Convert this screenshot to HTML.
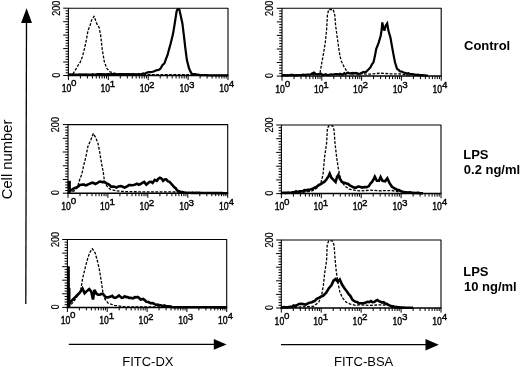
<!DOCTYPE html>
<html><head><meta charset="utf-8"><title>Figure</title>
<style>html,body{margin:0;padding:0;background:#fff}body{width:520px;height:367px;position:relative;overflow:hidden}</style>
</head><body>
<svg width="520" height="367" viewBox="0 0 520 367" style="position:absolute;left:0;top:0">
<g fill="none" stroke="#000" stroke-linecap="butt" stroke-linejoin="round">
<path d="M68.4 75.5V8.2H228.0V75.5" stroke-width="1.1"/>
<path d="M67.4 75.5H228.5" stroke-width="1.5"/>
<path d="M68.4 75.5v4.6M80.4 75.5v3M87.4 75.5v3M92.4 75.5v3M96.3 75.5v3M99.4 75.5v3M102.1 75.5v3M104.4 75.5v3M106.5 75.5v3M108.3 75.5v4.6M120.3 75.5v3M127.3 75.5v3M132.3 75.5v3M136.2 75.5v3M139.3 75.5v3M142.0 75.5v3M144.3 75.5v3M146.4 75.5v3M148.2 75.5v4.6M160.2 75.5v3M167.2 75.5v3M172.2 75.5v3M176.1 75.5v3M179.2 75.5v3M181.9 75.5v3M184.2 75.5v3M186.3 75.5v3M188.1 75.5v4.6M200.1 75.5v3M207.1 75.5v3M212.1 75.5v3M216.0 75.5v3M219.1 75.5v3M221.8 75.5v3M224.1 75.5v3M226.2 75.5v3M228.0 75.5v4.6" stroke-width="1"/>
<path d="M68.4 75.5h-5.2M68.4 72.8h-2.8M68.4 70.1h-2.8M68.4 67.4h-2.8M68.4 64.7h-2.8M68.4 62.0h-5.2M68.4 59.3h-2.8M68.4 56.7h-2.8M68.4 54.0h-2.8M68.4 51.3h-2.8M68.4 48.6h-5.2M68.4 45.9h-2.8M68.4 43.2h-2.8M68.4 40.5h-2.8M68.4 37.8h-2.8M68.4 35.1h-5.2M68.4 32.4h-2.8M68.4 29.7h-2.8M68.4 27.0h-2.8M68.4 24.4h-2.8M68.4 21.7h-5.2M68.4 19.0h-2.8M68.4 16.3h-2.8M68.4 13.6h-2.8M68.4 10.9h-2.8M68.4 8.2h-5.2" stroke-width="1"/>
<polyline points="68.5,74.5 73.0,73.8 75.2,70.3 78.2,65.2 80.3,62.1 82.3,57.0 84.4,48.9 86.4,39.7 88.0,30.5 90.1,25.4 91.5,20.3 94.2,16.2 96.6,23.4 99.1,27.4 100.7,35.6 102.3,49.9 104.4,62.1 106.8,68.3 109.9,71.9 115.0,73.4 125.0,74.2 150.0,74.6 200.0,74.6" stroke-width="1.3" stroke-dasharray="2.8 1.5"/>
<polyline points="68.5,74.6 69.9,74.6 71.4,74.7 72.8,74.4 74.2,74.7 75.7,74.7 77.1,74.7 78.5,74.6 80.0,74.4 81.4,74.7 82.8,74.3 84.3,74.5 85.7,74.3 87.1,74.6 88.6,74.5 90.0,74.5 91.4,74.6 92.9,74.2 94.3,74.5 95.7,74.5 97.1,74.2 98.6,74.2 100.0,74.1 101.4,74.2 102.9,74.4 104.3,74.1 105.7,74.5 107.1,74.2 108.6,74.1 110.0,74.3 111.4,74.1 112.9,74.0 114.3,74.2 115.7,74.0 117.1,74.3 118.6,74.1 120.0,74.0 121.4,74.2 122.9,74.2 124.3,74.4 125.7,74.0 127.1,74.2 128.6,74.0 130.0,74.2 131.4,74.4 132.9,74.0 134.3,74.2 135.7,74.3 137.1,74.4 138.6,74.2 140.0,74.4 141.5,74.2 143.1,73.5 144.6,73.9 146.1,73.0 147.7,72.4 149.4,72.1 151.0,72.2 152.7,71.7 154.3,71.3 155.8,70.5 157.4,70.2 158.9,69.7 160.4,68.7 162.4,65.3 164.5,63.2 166.1,58.6 167.6,55.0 169.1,49.1 170.6,43.8 173.1,33.6 175.1,21.3 176.6,11.3 177.5,9.4 179.3,9.4 180.4,14.2 182.4,23.4 183.9,35.6 185.3,47.9 186.9,60.1 189.0,68.3 190.5,71.7 192.0,74.0 193.6,74.2 195.2,74.2 196.8,74.7 198.4,74.7 200.0,75.2 201.4,75.2 202.8,75.2 204.2,75.2 205.6,75.2 207.0,75.2 208.4,75.3 209.8,75.3 211.2,75.3 212.6,75.3 214.0,75.3 215.4,75.3 216.8,75.3 218.2,75.3 219.6,75.3 221.0,75.4 222.4,75.4 223.8,75.4 225.2,75.4 226.6,75.4 228.0,75.4" stroke-width="2.2" stroke-linejoin="miter" stroke-miterlimit="3"/>
<path d="M282.0 76.1V8.3H441.2V76.1" stroke-width="1.1"/>
<path d="M281.0 76.1H441.7" stroke-width="1.5"/>
<path d="M282.0 76.1v4.6M294.0 76.1v3M301.0 76.1v3M306.0 76.1v3M309.8 76.1v3M313.0 76.1v3M315.6 76.1v3M317.9 76.1v3M320.0 76.1v3M321.8 76.1v4.6M333.8 76.1v3M340.8 76.1v3M345.8 76.1v3M349.6 76.1v3M352.8 76.1v3M355.4 76.1v3M357.7 76.1v3M359.8 76.1v3M361.6 76.1v4.6M373.6 76.1v3M380.6 76.1v3M385.6 76.1v3M389.4 76.1v3M392.6 76.1v3M395.2 76.1v3M397.5 76.1v3M399.6 76.1v3M401.4 76.1v4.6M413.4 76.1v3M420.4 76.1v3M425.4 76.1v3M429.2 76.1v3M432.4 76.1v3M435.0 76.1v3M437.3 76.1v3M439.4 76.1v3M441.2 76.1v4.6" stroke-width="1"/>
<path d="M282.0 76.1h-5.2M282.0 73.4h-2.8M282.0 70.7h-2.8M282.0 68.0h-2.8M282.0 65.3h-2.8M282.0 62.5h-5.2M282.0 59.8h-2.8M282.0 57.1h-2.8M282.0 54.4h-2.8M282.0 51.7h-2.8M282.0 49.0h-5.2M282.0 46.3h-2.8M282.0 43.6h-2.8M282.0 40.8h-2.8M282.0 38.1h-2.8M282.0 35.4h-5.2M282.0 32.7h-2.8M282.0 30.0h-2.8M282.0 27.3h-2.8M282.0 24.6h-2.8M282.0 21.9h-5.2M282.0 19.1h-2.8M282.0 16.4h-2.8M282.0 13.7h-2.8M282.0 11.0h-2.8M282.0 8.3h-5.2" stroke-width="1"/>
<polyline points="282.0,75.0 300.0,74.8 315.0,74.5 319.9,73.5 321.5,64.3 323.4,54.1 325.4,41.8 326.6,29.5 327.4,15.2 328.7,9.5 333.2,9.5 334.8,15.2 335.6,25.4 337.3,37.7 339.3,52.0 340.9,60.2 343.8,66.3 346.5,70.8 350.6,74.1 360.0,73.8 370.0,74.2 380.0,73.2 390.0,73.8 400.0,74.0 410.0,75.2" stroke-width="1.3" stroke-dasharray="2.8 1.5"/>
<polyline points="282.0,75.3 283.5,75.2 285.0,75.1 286.5,75.3 288.0,75.3 289.5,75.2 291.0,74.9 292.5,74.9 294.0,75.0 295.5,75.3 297.0,75.1 298.5,75.0 300.0,75.0 301.4,75.0 302.9,74.6 304.3,74.9 305.7,74.8 307.1,74.5 308.6,74.5 310.0,74.6 312.0,73.5 314.0,72.6 316.0,74.1 318.0,74.3 319.5,74.1 321.0,73.7 322.5,74.8 324.0,74.9 325.5,74.2 327.0,74.8 328.5,75.1 330.0,74.5 331.4,74.3 332.9,74.5 334.3,74.3 335.7,74.2 337.1,74.1 338.6,74.4 340.0,73.8 341.4,74.3 342.9,74.3 344.3,73.2 345.7,74.1 347.1,73.0 348.6,73.1 350.0,73.5 351.5,73.0 352.9,72.9 354.4,73.4 355.8,72.9 357.3,73.4 358.7,74.0 360.2,73.5 361.8,72.9 363.3,71.9 364.8,72.4 366.4,71.5 368.4,69.5 370.4,67.4 371.9,64.4 373.5,62.3 374.9,56.1 376.2,49.0 378.6,42.8 380.7,35.7 381.7,29.5 382.3,22.4 383.3,27.5 384.4,30.6 385.8,25.4 387.2,23.4 388.4,30.6 390.5,37.7 391.9,45.9 393.4,54.1 395.0,62.3 397.0,68.8 398.6,69.9 400.1,71.5 401.8,71.6 403.5,72.5 405.2,72.9 406.7,73.8 408.2,73.1 409.8,73.7 411.3,74.1 412.9,74.0 414.6,74.7 416.2,74.8 417.9,74.7 419.5,75.1 420.9,75.0 422.3,75.2 423.8,75.4 425.2,75.4 426.6,75.6 428.0,75.7" stroke-width="2.2" stroke-linejoin="miter" stroke-miterlimit="3"/>
<path d="M68.0 193.2V124.6H227.7V193.2" stroke-width="1.1"/>
<path d="M67.0 193.2H228.2" stroke-width="1.5"/>
<path d="M68.0 193.2v4.6M80.0 193.2v3M87.0 193.2v3M92.0 193.2v3M95.9 193.2v3M99.1 193.2v3M101.7 193.2v3M104.1 193.2v3M106.1 193.2v3M107.9 193.2v4.6M119.9 193.2v3M127.0 193.2v3M132.0 193.2v3M135.8 193.2v3M139.0 193.2v3M141.7 193.2v3M144.0 193.2v3M146.0 193.2v3M147.8 193.2v4.6M159.9 193.2v3M166.9 193.2v3M171.9 193.2v3M175.8 193.2v3M178.9 193.2v3M181.6 193.2v3M183.9 193.2v3M185.9 193.2v3M187.8 193.2v4.6M199.8 193.2v3M206.8 193.2v3M211.8 193.2v3M215.7 193.2v3M218.8 193.2v3M221.5 193.2v3M223.8 193.2v3M225.9 193.2v3M227.7 193.2v4.6" stroke-width="1"/>
<path d="M68.0 193.2h-5.2M68.0 190.5h-2.8M68.0 187.7h-2.8M68.0 185.0h-2.8M68.0 182.2h-2.8M68.0 179.5h-5.2M68.0 176.7h-2.8M68.0 174.0h-2.8M68.0 171.2h-2.8M68.0 168.5h-2.8M68.0 165.8h-5.2M68.0 163.0h-2.8M68.0 160.3h-2.8M68.0 157.5h-2.8M68.0 154.8h-2.8M68.0 152.0h-5.2M68.0 149.3h-2.8M68.0 146.6h-2.8M68.0 143.8h-2.8M68.0 141.1h-2.8M68.0 138.3h-5.2M68.0 135.6h-2.8M68.0 132.8h-2.8M68.0 130.1h-2.8M68.0 127.3h-2.8M68.0 124.6h-5.2" stroke-width="1"/>
<polyline points="68.0,192.0 74.0,191.0 77.5,187.1 79.6,179.8 81.7,174.6 83.8,165.1 85.9,156.7 88.0,146.2 90.8,139.9 93.3,133.6 95.8,137.8 97.9,143.1 99.6,151.5 101.7,164.1 103.3,172.5 104.4,180.8 106.9,186.1 110.1,189.2 116.4,190.9 124.7,191.6 146.0,191.9 185.0,192.0" stroke-width="1.3" stroke-dasharray="2.8 1.5"/>
<polyline points="69.0,181.0 69.3,191.5 71.2,190.3 72.8,189.0 74.4,188.2 76.5,187.5 78.6,186.1 80.0,185.0 81.4,184.8 82.8,184.6 84.2,184.6 85.6,185.4 87.0,185.0 88.4,184.1 89.8,183.7 91.2,182.9 92.6,182.7 94.0,183.2 95.4,184.0 97.5,183.0 99.6,181.5 101.0,181.7 102.4,182.1 103.8,181.9 105.2,182.5 106.6,183.3 108.0,184.0 109.5,184.9 111.1,186.7 112.9,186.6 114.6,186.7 116.4,187.6 118.5,186.4 120.6,186.1 122.7,186.8 124.7,187.6 126.1,186.9 127.5,186.2 128.9,185.0 130.5,185.1 132.1,185.2 133.6,185.0 135.2,184.6 137.0,183.7 138.7,184.7 140.5,184.0 142.3,182.9 144.2,181.9 146.3,184.6 147.9,183.2 149.4,181.9 151.0,181.8 152.6,182.9 154.7,179.8 156.8,180.8 158.4,178.8 159.9,177.7 161.5,178.6 163.1,180.8 164.6,179.5 166.2,179.4 167.8,181.1 169.4,181.9 170.9,183.3 172.5,185.0 174.1,187.0 175.7,188.2 177.2,190.4 178.8,191.3 180.6,191.8 182.3,192.1 184.1,192.8 185.5,192.6 186.9,193.0 188.3,192.8 189.7,192.7 191.1,193.0 192.5,192.7 193.9,193.0 195.4,192.9 196.8,192.9 198.2,192.9 199.6,192.9 201.0,193.0 202.4,193.0 203.8,193.0 205.2,193.0 206.6,193.0 208.0,193.0 209.4,193.0 210.8,193.0 212.2,193.1 213.6,193.1 215.0,193.1 216.4,193.1 217.9,193.1 219.3,193.1 220.7,193.1 222.1,193.1 223.5,193.2 224.9,193.2 226.3,193.2 227.7,193.2" stroke-width="2.6" stroke-linejoin="miter" stroke-miterlimit="3"/>
<path d="M69.3 180.8V192.5" stroke-width="3"/>
<path d="M281.4 193.6V125.0H441.0V193.6" stroke-width="1.1"/>
<path d="M280.4 193.6H441.5" stroke-width="1.5"/>
<path d="M281.4 193.6v4.6M293.4 193.6v3M300.4 193.6v3M305.4 193.6v3M309.3 193.6v3M312.4 193.6v3M315.1 193.6v3M317.4 193.6v3M319.5 193.6v3M321.3 193.6v4.6M333.3 193.6v3M340.3 193.6v3M345.3 193.6v3M349.2 193.6v3M352.3 193.6v3M355.0 193.6v3M357.3 193.6v3M359.4 193.6v3M361.2 193.6v4.6M373.2 193.6v3M380.2 193.6v3M385.2 193.6v3M389.1 193.6v3M392.2 193.6v3M394.9 193.6v3M397.2 193.6v3M399.3 193.6v3M401.1 193.6v4.6M413.1 193.6v3M420.1 193.6v3M425.1 193.6v3M429.0 193.6v3M432.1 193.6v3M434.8 193.6v3M437.1 193.6v3M439.2 193.6v3M441.0 193.6v4.6" stroke-width="1"/>
<path d="M281.4 193.6h-5.2M281.4 190.9h-2.8M281.4 188.1h-2.8M281.4 185.4h-2.8M281.4 182.6h-2.8M281.4 179.9h-5.2M281.4 177.1h-2.8M281.4 174.4h-2.8M281.4 171.6h-2.8M281.4 168.9h-2.8M281.4 166.2h-5.2M281.4 163.4h-2.8M281.4 160.7h-2.8M281.4 157.9h-2.8M281.4 155.2h-2.8M281.4 152.4h-5.2M281.4 149.7h-2.8M281.4 147.0h-2.8M281.4 144.2h-2.8M281.4 141.5h-2.8M281.4 138.7h-5.2M281.4 136.0h-2.8M281.4 133.2h-2.8M281.4 130.5h-2.8M281.4 127.7h-2.8M281.4 125.0h-5.2" stroke-width="1"/>
<polyline points="281.4,193.0 300.0,192.6 311.5,191.3 316.7,188.2 320.9,182.9 323.0,174.6 324.5,157.8 326.6,143.1 327.4,128.4 328.7,125.9 332.9,125.9 334.1,130.5 335.0,143.1 336.7,157.8 338.3,168.3 339.8,175.6 341.9,181.9 345.0,186.1 349.2,189.2 355.5,190.3 360.0,190.9 370.0,190.2 380.0,190.8 392.0,190.5 400.0,192.3" stroke-width="1.3" stroke-dasharray="2.8 1.5"/>
<polyline points="281.4,193.0 282.8,192.8 284.2,192.8 285.6,192.9 287.0,192.8 288.4,192.5 289.8,192.7 291.2,192.7 292.6,192.4 294.3,192.3 296.0,191.3 297.6,192.4 299.3,191.2 301.0,191.3 302.7,191.4 304.4,190.2 306.0,190.4 307.7,189.9 309.4,189.7 311.1,189.3 312.9,188.7 314.6,187.6 316.7,186.8 318.8,185.0 320.9,184.2 323.0,182.5 324.6,181.7 326.2,179.8 328.3,176.7 329.7,173.5 331.4,177.7 333.5,179.8 335.6,181.9 337.1,176.7 338.3,175.0 339.8,178.7 341.9,181.9 343.4,182.6 345.0,182.9 346.6,183.5 348.2,184.0 349.8,185.4 351.3,186.1 352.9,187.0 354.5,187.6 356.1,187.6 357.6,186.7 359.1,186.6 360.5,186.9 362.6,187.6 364.7,187.1 366.8,187.1 368.9,186.1 370.4,183.6 372.0,181.9 373.4,179.7 374.8,176.7 376.9,180.8 379.0,180.8 380.6,177.1 382.5,180.8 385.2,181.3 387.3,178.3 389.4,182.9 392.0,186.7 393.6,187.8 395.1,188.8 397.2,189.7 399.3,190.3 401.1,191.3 402.8,191.7 404.6,192.0 406.3,192.2 407.9,192.5 409.6,192.4 411.2,192.5 412.9,193.0 414.3,192.9 415.8,193.0 417.2,192.9 418.7,192.9 420.1,193.2 421.6,193.3 423.0,193.4" stroke-width="2.6" stroke-linejoin="miter" stroke-miterlimit="3"/>
<path d="M67.4 307.4V239.5H226.7V307.4" stroke-width="1.1"/>
<path d="M66.4 307.4H227.2" stroke-width="1.5"/>
<path d="M67.4 307.4v4.6M79.4 307.4v3M86.4 307.4v3M91.4 307.4v3M95.2 307.4v3M98.4 307.4v3M101.1 307.4v3M103.4 307.4v3M105.4 307.4v3M107.2 307.4v4.6M119.2 307.4v3M126.2 307.4v3M131.2 307.4v3M135.1 307.4v3M138.2 307.4v3M140.9 307.4v3M143.2 307.4v3M145.2 307.4v3M147.1 307.4v4.6M159.0 307.4v3M166.1 307.4v3M171.0 307.4v3M174.9 307.4v3M178.0 307.4v3M180.7 307.4v3M183.0 307.4v3M185.1 307.4v3M186.9 307.4v4.6M198.9 307.4v3M205.9 307.4v3M210.9 307.4v3M214.7 307.4v3M217.9 307.4v3M220.5 307.4v3M222.8 307.4v3M224.9 307.4v3M226.7 307.4v4.6" stroke-width="1"/>
<path d="M67.4 307.4h-5.2M67.4 304.7h-2.8M67.4 302.0h-2.8M67.4 299.3h-2.8M67.4 296.5h-2.8M67.4 293.8h-5.2M67.4 291.1h-2.8M67.4 288.4h-2.8M67.4 285.7h-2.8M67.4 283.0h-2.8M67.4 280.2h-5.2M67.4 277.5h-2.8M67.4 274.8h-2.8M67.4 272.1h-2.8M67.4 269.4h-2.8M67.4 266.7h-5.2M67.4 263.9h-2.8M67.4 261.2h-2.8M67.4 258.5h-2.8M67.4 255.8h-2.8M67.4 253.1h-5.2M67.4 250.4h-2.8M67.4 247.6h-2.8M67.4 244.9h-2.8M67.4 242.2h-2.8M67.4 239.5h-5.2" stroke-width="1"/>
<polyline points="67.4,306.5 71.0,304.5 73.4,302.1 77.6,295.8 80.8,289.6 82.5,279.1 85.0,268.6 87.5,259.1 89.6,252.8 92.3,248.6 95.1,252.8 97.2,260.2 99.2,268.6 101.3,281.2 102.8,291.7 104.9,299.0 108.1,303.2 114.4,305.3 124.8,306.8 144.0,307.0 175.0,307.0" stroke-width="1.3" stroke-dasharray="2.8 1.5"/>
<polyline points="68.3,266.5 68.6,304.2 71.3,301.1 72.9,299.5 74.5,297.9 76.0,296.3 77.6,294.8 79.0,293.6 80.4,291.7 82.5,288.5 84.6,293.3 86.7,291.2 89.2,289.1 91.3,291.7 93.0,299.5 94.4,290.0 96.5,293.7 98.1,294.7 99.7,294.8 101.2,294.0 102.8,293.7 104.4,295.7 106.0,297.5 107.5,297.4 109.1,296.9 110.7,296.6 112.3,295.8 113.8,297.5 115.4,297.9 117.2,297.0 119.0,295.4 121.7,297.9 123.2,297.6 124.8,296.3 126.2,297.1 127.6,297.0 129.0,297.9 131.1,297.9 133.2,298.4 134.6,297.2 136.0,297.4 137.4,296.9 139.0,297.8 140.6,299.6 143.1,299.0 144.7,300.1 146.3,301.7 148.4,302.0 150.5,303.2 152.6,303.0 154.7,304.2 156.3,304.9 157.8,304.5 159.4,305.2 161.0,305.3 162.6,306.1 164.2,305.5 165.7,306.0 167.3,306.3 168.9,306.3 170.4,306.5 172.0,307.0 173.6,307.2 175.0,307.2 176.5,307.2 177.9,307.2 179.3,307.2 180.8,307.2 182.2,307.2 183.6,307.2 185.1,307.2 186.5,307.2 188.0,307.3 189.4,307.3 190.8,307.3 192.3,307.3 193.7,307.3 195.1,307.3 196.6,307.3 198.0,307.3 199.4,307.3 200.9,307.3 202.3,307.3 203.7,307.3 205.2,307.3 206.6,307.3 208.0,307.3 209.5,307.3 210.9,307.3 212.3,307.3 213.8,307.4 215.2,307.4 216.7,307.4 218.1,307.4 219.5,307.4 221.0,307.4 222.4,307.4 223.8,307.4 225.3,307.4 226.7,307.4" stroke-width="2.6" stroke-linejoin="miter" stroke-miterlimit="3"/>
<path d="M68.4 266.5V306.8" stroke-width="2.4"/><path d="M68.9 288V306.8" stroke-width="3.2"/>
<path d="M281.3 308.0V240.0H441.0V308.0" stroke-width="1.1"/>
<path d="M280.3 308.0H441.5" stroke-width="1.5"/>
<path d="M281.3 308.0v4.6M293.3 308.0v3M300.3 308.0v3M305.3 308.0v3M309.2 308.0v3M312.4 308.0v3M315.0 308.0v3M317.4 308.0v3M319.4 308.0v3M321.2 308.0v4.6M333.2 308.0v3M340.3 308.0v3M345.3 308.0v3M349.1 308.0v3M352.3 308.0v3M355.0 308.0v3M357.3 308.0v3M359.3 308.0v3M361.1 308.0v4.6M373.2 308.0v3M380.2 308.0v3M385.2 308.0v3M389.1 308.0v3M392.2 308.0v3M394.9 308.0v3M397.2 308.0v3M399.2 308.0v3M401.1 308.0v4.6M413.1 308.0v3M420.1 308.0v3M425.1 308.0v3M429.0 308.0v3M432.1 308.0v3M434.8 308.0v3M437.1 308.0v3M439.2 308.0v3M441.0 308.0v4.6" stroke-width="1"/>
<path d="M281.3 308.0h-5.2M281.3 305.3h-2.8M281.3 302.6h-2.8M281.3 299.8h-2.8M281.3 297.1h-2.8M281.3 294.4h-5.2M281.3 291.7h-2.8M281.3 289.0h-2.8M281.3 286.2h-2.8M281.3 283.5h-2.8M281.3 280.8h-5.2M281.3 278.1h-2.8M281.3 275.4h-2.8M281.3 272.6h-2.8M281.3 269.9h-2.8M281.3 267.2h-5.2M281.3 264.5h-2.8M281.3 261.8h-2.8M281.3 259.0h-2.8M281.3 256.3h-2.8M281.3 253.6h-5.2M281.3 250.9h-2.8M281.3 248.2h-2.8M281.3 245.4h-2.8M281.3 242.7h-2.8M281.3 240.0h-5.2" stroke-width="1"/>
<polyline points="281.3,307.4 300.0,307.0 313.6,306.3 318.8,302.1 321.5,295.8 323.4,285.4 324.7,272.8 326.6,260.2 327.2,244.4 328.7,240.9 332.5,240.9 334.1,245.5 335.0,258.1 336.2,270.7 337.7,281.2 339.8,291.7 342.5,297.9 346.1,302.1 350.3,304.2 355.5,305.3 360.0,304.9 370.0,305.4 380.0,304.8 392.0,305.6 400.0,307.0" stroke-width="1.3" stroke-dasharray="2.8 1.5"/>
<polyline points="281.3,307.6 282.8,307.4 284.4,307.1 285.9,307.4 287.4,307.2 289.0,307.0 290.5,306.8 292.1,306.9 293.6,305.4 295.2,306.0 296.8,305.3 298.9,304.0 301.0,303.8 303.1,304.1 305.2,304.7 306.9,304.0 308.7,302.9 310.4,302.6 311.8,302.2 313.2,301.5 314.6,301.1 316.7,298.8 318.8,297.9 320.9,296.6 323.0,295.8 324.6,294.3 326.2,292.7 328.7,288.5 331.4,285.4 333.5,280.7 335.6,279.1 337.7,281.6 339.8,279.5 341.9,284.3 344.6,288.5 347.1,291.7 348.7,294.2 350.3,295.8 352.4,299.6 353.9,301.0 355.5,301.7 357.2,301.9 358.8,303.3 360.5,303.2 362.2,303.3 364.0,303.1 365.7,302.6 367.5,301.8 369.2,302.1 371.0,301.1 372.6,302.2 374.1,302.1 375.7,300.9 377.3,300.0 378.9,301.1 380.4,301.7 382.0,302.5 383.6,302.1 385.1,303.5 386.7,303.8 388.8,305.1 390.9,305.9 392.3,306.6 393.7,306.5 395.1,307.2 396.6,307.4 398.1,307.4 399.6,307.4 401.0,307.6 402.5,307.6 404.0,307.6 405.5,307.8 407.0,307.7 408.5,307.7 410.0,307.7 411.5,307.8 413.0,307.8" stroke-width="2.6" stroke-linejoin="miter" stroke-miterlimit="3"/>
</g>
<g stroke="#000" fill="#000">
<path d="M26.5 22L25.8 304" stroke-width="1.3" fill="none"/>
<path d="M26.6 8.2L32 22.9H21.1Z" stroke="none"/>
<path d="M68.8 344.3H215" stroke-width="1.3" fill="none"/>
<path d="M226.6 344.4L213.8 339V349.8Z" stroke="none"/>
<path d="M281 344.7H427" stroke-width="1.3" fill="none"/>
<path d="M438.8 344.7L425.5 339.1V350.4Z" stroke="none"/>
</g>
<g fill="#000" font-family="'Liberation Sans', Arial, Helvetica, sans-serif">
<text x="71.3" y="92.2" font-size="10" text-anchor="end" textLength="9.6" lengthAdjust="spacingAndGlyphs" stroke="#000" stroke-width="0.4">10</text>
<text x="71.1" y="86.4" font-size="9.8" stroke="#000" stroke-width="0.4">0</text>
<text x="110.0" y="92.2" font-size="10" text-anchor="end" textLength="9.6" lengthAdjust="spacingAndGlyphs" stroke="#000" stroke-width="0.4">10</text>
<text x="109.8" y="87.4" font-size="9.8" stroke="#000" stroke-width="0.4">1</text>
<text x="149.3" y="92.2" font-size="10" text-anchor="end" textLength="9.6" lengthAdjust="spacingAndGlyphs" stroke="#000" stroke-width="0.4">10</text>
<text x="149.1" y="87.8" font-size="9.8" stroke="#000" stroke-width="0.4">2</text>
<text x="189.1" y="92.2" font-size="10" text-anchor="end" textLength="9.6" lengthAdjust="spacingAndGlyphs" stroke="#000" stroke-width="0.4">10</text>
<text x="188.9" y="87.8" font-size="9.8" stroke="#000" stroke-width="0.4">3</text>
<text x="228.9" y="92.2" font-size="10" text-anchor="end" textLength="9.6" lengthAdjust="spacingAndGlyphs" stroke="#000" stroke-width="0.4">10</text>
<text x="228.7" y="87.1" font-size="9.8" stroke="#000" stroke-width="0.4">4</text>
<text transform="translate(59.8 15.8) rotate(-90)" font-size="10" textLength="15.2" lengthAdjust="spacingAndGlyphs" stroke="#000" stroke-width="0.2">200</text>
<text transform="translate(59.8 77.4) rotate(-90)" font-size="10" textLength="4.8" lengthAdjust="spacingAndGlyphs" stroke="#000" stroke-width="0.2">0</text>
<text x="284.9" y="92.8" font-size="10" text-anchor="end" textLength="9.6" lengthAdjust="spacingAndGlyphs" stroke="#000" stroke-width="0.4">10</text>
<text x="284.7" y="87.0" font-size="9.8" stroke="#000" stroke-width="0.4">0</text>
<text x="323.5" y="92.8" font-size="10" text-anchor="end" textLength="9.6" lengthAdjust="spacingAndGlyphs" stroke="#000" stroke-width="0.4">10</text>
<text x="323.3" y="88.0" font-size="9.8" stroke="#000" stroke-width="0.4">1</text>
<text x="362.7" y="92.8" font-size="10" text-anchor="end" textLength="9.6" lengthAdjust="spacingAndGlyphs" stroke="#000" stroke-width="0.4">10</text>
<text x="362.5" y="88.4" font-size="9.8" stroke="#000" stroke-width="0.4">2</text>
<text x="402.4" y="92.8" font-size="10" text-anchor="end" textLength="9.6" lengthAdjust="spacingAndGlyphs" stroke="#000" stroke-width="0.4">10</text>
<text x="402.2" y="88.4" font-size="9.8" stroke="#000" stroke-width="0.4">3</text>
<text x="442.1" y="92.8" font-size="10" text-anchor="end" textLength="9.6" lengthAdjust="spacingAndGlyphs" stroke="#000" stroke-width="0.4">10</text>
<text x="441.9" y="87.7" font-size="9.8" stroke="#000" stroke-width="0.4">4</text>
<text transform="translate(273.4 15.9) rotate(-90)" font-size="10" textLength="15.2" lengthAdjust="spacingAndGlyphs" stroke="#000" stroke-width="0.2">200</text>
<text transform="translate(273.4 78.0) rotate(-90)" font-size="10" textLength="4.8" lengthAdjust="spacingAndGlyphs" stroke="#000" stroke-width="0.2">0</text>
<text x="70.9" y="209.9" font-size="10" text-anchor="end" textLength="9.6" lengthAdjust="spacingAndGlyphs" stroke="#000" stroke-width="0.4">10</text>
<text x="70.7" y="204.1" font-size="9.8" stroke="#000" stroke-width="0.4">0</text>
<text x="109.6" y="209.9" font-size="10" text-anchor="end" textLength="9.6" lengthAdjust="spacingAndGlyphs" stroke="#000" stroke-width="0.4">10</text>
<text x="109.4" y="205.1" font-size="9.8" stroke="#000" stroke-width="0.4">1</text>
<text x="149.0" y="209.9" font-size="10" text-anchor="end" textLength="9.6" lengthAdjust="spacingAndGlyphs" stroke="#000" stroke-width="0.4">10</text>
<text x="148.8" y="205.5" font-size="9.8" stroke="#000" stroke-width="0.4">2</text>
<text x="188.8" y="209.9" font-size="10" text-anchor="end" textLength="9.6" lengthAdjust="spacingAndGlyphs" stroke="#000" stroke-width="0.4">10</text>
<text x="188.6" y="205.5" font-size="9.8" stroke="#000" stroke-width="0.4">3</text>
<text x="228.6" y="209.9" font-size="10" text-anchor="end" textLength="9.6" lengthAdjust="spacingAndGlyphs" stroke="#000" stroke-width="0.4">10</text>
<text x="228.4" y="204.8" font-size="9.8" stroke="#000" stroke-width="0.4">4</text>
<text transform="translate(59.4 132.2) rotate(-90)" font-size="10" textLength="15.2" lengthAdjust="spacingAndGlyphs" stroke="#000" stroke-width="0.2">200</text>
<text transform="translate(59.4 195.1) rotate(-90)" font-size="10" textLength="4.8" lengthAdjust="spacingAndGlyphs" stroke="#000" stroke-width="0.2">0</text>
<text x="284.3" y="210.3" font-size="10" text-anchor="end" textLength="9.6" lengthAdjust="spacingAndGlyphs" stroke="#000" stroke-width="0.4">10</text>
<text x="284.1" y="204.5" font-size="9.8" stroke="#000" stroke-width="0.4">0</text>
<text x="323.0" y="210.3" font-size="10" text-anchor="end" textLength="9.6" lengthAdjust="spacingAndGlyphs" stroke="#000" stroke-width="0.4">10</text>
<text x="322.8" y="205.5" font-size="9.8" stroke="#000" stroke-width="0.4">1</text>
<text x="362.3" y="210.3" font-size="10" text-anchor="end" textLength="9.6" lengthAdjust="spacingAndGlyphs" stroke="#000" stroke-width="0.4">10</text>
<text x="362.1" y="205.9" font-size="9.8" stroke="#000" stroke-width="0.4">2</text>
<text x="402.1" y="210.3" font-size="10" text-anchor="end" textLength="9.6" lengthAdjust="spacingAndGlyphs" stroke="#000" stroke-width="0.4">10</text>
<text x="401.9" y="205.9" font-size="9.8" stroke="#000" stroke-width="0.4">3</text>
<text x="441.9" y="210.3" font-size="10" text-anchor="end" textLength="9.6" lengthAdjust="spacingAndGlyphs" stroke="#000" stroke-width="0.4">10</text>
<text x="441.7" y="205.2" font-size="9.8" stroke="#000" stroke-width="0.4">4</text>
<text transform="translate(272.8 132.6) rotate(-90)" font-size="10" textLength="15.2" lengthAdjust="spacingAndGlyphs" stroke="#000" stroke-width="0.2">200</text>
<text transform="translate(272.8 195.5) rotate(-90)" font-size="10" textLength="4.8" lengthAdjust="spacingAndGlyphs" stroke="#000" stroke-width="0.2">0</text>
<text x="70.3" y="324.1" font-size="10" text-anchor="end" textLength="9.6" lengthAdjust="spacingAndGlyphs" stroke="#000" stroke-width="0.4">10</text>
<text x="70.1" y="318.3" font-size="9.8" stroke="#000" stroke-width="0.4">0</text>
<text x="108.9" y="324.1" font-size="10" text-anchor="end" textLength="9.6" lengthAdjust="spacingAndGlyphs" stroke="#000" stroke-width="0.4">10</text>
<text x="108.7" y="319.3" font-size="9.8" stroke="#000" stroke-width="0.4">1</text>
<text x="148.2" y="324.1" font-size="10" text-anchor="end" textLength="9.6" lengthAdjust="spacingAndGlyphs" stroke="#000" stroke-width="0.4">10</text>
<text x="148.0" y="319.7" font-size="9.8" stroke="#000" stroke-width="0.4">2</text>
<text x="187.9" y="324.1" font-size="10" text-anchor="end" textLength="9.6" lengthAdjust="spacingAndGlyphs" stroke="#000" stroke-width="0.4">10</text>
<text x="187.7" y="319.7" font-size="9.8" stroke="#000" stroke-width="0.4">3</text>
<text x="227.6" y="324.1" font-size="10" text-anchor="end" textLength="9.6" lengthAdjust="spacingAndGlyphs" stroke="#000" stroke-width="0.4">10</text>
<text x="227.4" y="319.0" font-size="9.8" stroke="#000" stroke-width="0.4">4</text>
<text transform="translate(58.8 247.1) rotate(-90)" font-size="10" textLength="15.2" lengthAdjust="spacingAndGlyphs" stroke="#000" stroke-width="0.2">200</text>
<text transform="translate(58.8 309.3) rotate(-90)" font-size="10" textLength="4.8" lengthAdjust="spacingAndGlyphs" stroke="#000" stroke-width="0.2">0</text>
<text x="284.2" y="324.7" font-size="10" text-anchor="end" textLength="9.6" lengthAdjust="spacingAndGlyphs" stroke="#000" stroke-width="0.4">10</text>
<text x="284.0" y="318.9" font-size="9.8" stroke="#000" stroke-width="0.4">0</text>
<text x="322.9" y="324.7" font-size="10" text-anchor="end" textLength="9.6" lengthAdjust="spacingAndGlyphs" stroke="#000" stroke-width="0.4">10</text>
<text x="322.7" y="319.9" font-size="9.8" stroke="#000" stroke-width="0.4">1</text>
<text x="362.2" y="324.7" font-size="10" text-anchor="end" textLength="9.6" lengthAdjust="spacingAndGlyphs" stroke="#000" stroke-width="0.4">10</text>
<text x="362.1" y="320.3" font-size="9.8" stroke="#000" stroke-width="0.4">2</text>
<text x="402.1" y="324.7" font-size="10" text-anchor="end" textLength="9.6" lengthAdjust="spacingAndGlyphs" stroke="#000" stroke-width="0.4">10</text>
<text x="401.9" y="320.3" font-size="9.8" stroke="#000" stroke-width="0.4">3</text>
<text x="441.9" y="324.7" font-size="10" text-anchor="end" textLength="9.6" lengthAdjust="spacingAndGlyphs" stroke="#000" stroke-width="0.4">10</text>
<text x="441.7" y="319.6" font-size="9.8" stroke="#000" stroke-width="0.4">4</text>
<text transform="translate(272.7 247.6) rotate(-90)" font-size="10" textLength="15.2" lengthAdjust="spacingAndGlyphs" stroke="#000" stroke-width="0.2">200</text>
<text transform="translate(272.7 309.9) rotate(-90)" font-size="10" textLength="4.8" lengthAdjust="spacingAndGlyphs" stroke="#000" stroke-width="0.2">0</text>
<text transform="translate(12.3 199.3) rotate(-90)" font-size="14.8">Cell number</text>
<text x="122.2" y="365.6" font-size="13">FITC-DX</text>
<text x="334" y="366.1" font-size="13">FITC-BSA</text>
<g font-weight="bold" font-size="13">
<text x="464" y="50">Control</text>
<text x="463.2" y="158.6">LPS</text>
<text x="463.8" y="173.6">0.2 ng/ml</text>
<text x="463.2" y="275.9">LPS</text>
<text x="464" y="291.1">10 ng/ml</text>
</g></g></svg>
</body></html>
